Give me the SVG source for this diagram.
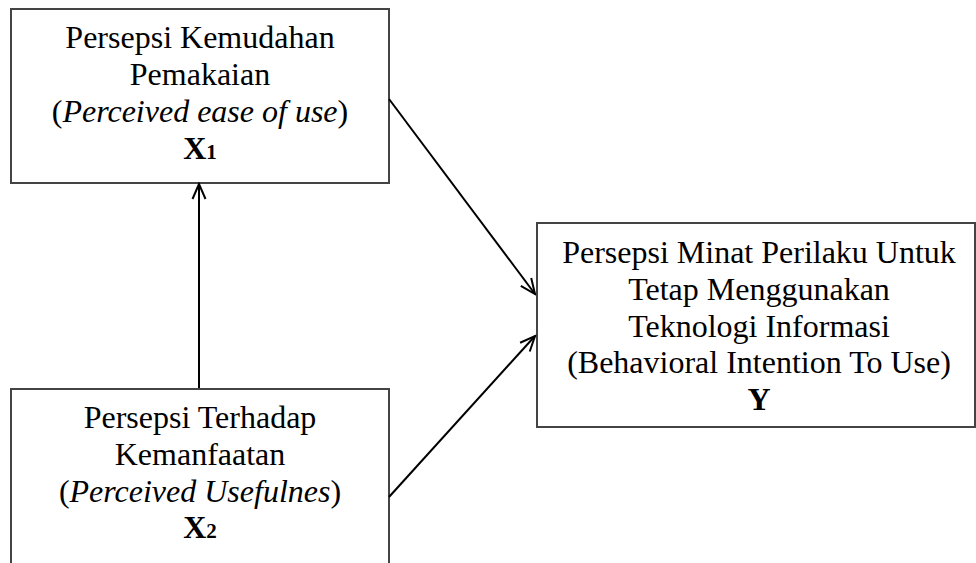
<svg xmlns="http://www.w3.org/2000/svg" width="976" height="563" viewBox="0 0 976 563">
<defs>
<marker id="arr" viewBox="-17 -9 19 18" refX="0" refY="0" markerWidth="19" markerHeight="18" markerUnits="userSpaceOnUse" orient="auto">
<path d="M-15,-6.5 L0,0 L-15,6.5" fill="none" stroke="#000" stroke-width="2"/>
</marker>
<style>
.box{fill:#fff;stroke:#444;stroke-width:2}
.t{font-family:'Liberation Serif','Times New Roman',Tinos,'DejaVu Serif',serif;font-size:32px;fill:#000;text-anchor:middle}
.i{font-style:italic}
.b{font-weight:bold}
.sub{font-size:21px}
.c{stroke:#000;stroke-width:2;fill:none}
</style>
</defs>
<rect width="976" height="563" fill="#fff"/>
<g id="node-x1">
<rect class="box" x="11" y="9" width="378" height="174"/>
<text class="t" x="200" y="48">Persepsi Kemudahan</text>
<text class="t" x="200" y="85">Pemakaian</text>
<text class="t" x="200" y="122">(<tspan class="i">Perceived ease of use</tspan>)</text>
<text class="t b" x="200" y="159">X<tspan class="sub">1</tspan></text>
</g>
<g id="node-x2">
<rect class="box" x="11" y="389" width="378" height="190"/>
<text class="t" x="200" y="428">Persepsi Terhadap</text>
<text class="t" x="200" y="465">Kemanfaatan</text>
<text class="t" x="200" y="502">(<tspan class="i">Perceived Usefulnes</tspan>)</text>
<text class="t b" x="200" y="538">X<tspan class="sub">2</tspan></text>
</g>
<g id="node-y">
<rect class="box" x="537" y="223" width="438" height="204"/>
<text class="t" x="759" y="263">Persepsi Minat Perilaku Untuk</text>
<text class="t" x="759" y="300">Tetap Menggunakan</text>
<text class="t" x="759" y="337">Teknologi Informasi</text>
<text class="t" x="759" y="373">(Behavioral Intention To Use)</text>
<text class="t b" x="759" y="410">Y</text>
</g>
<g id="connectors">
<line class="c" x1="199" y1="388" x2="199" y2="184" marker-end="url(#arr)"/>
<line class="c" x1="389" y1="99" x2="535" y2="294" marker-end="url(#arr)"/>
<line class="c" x1="389" y1="497" x2="535" y2="336" marker-end="url(#arr)"/>
</g>
</svg>
